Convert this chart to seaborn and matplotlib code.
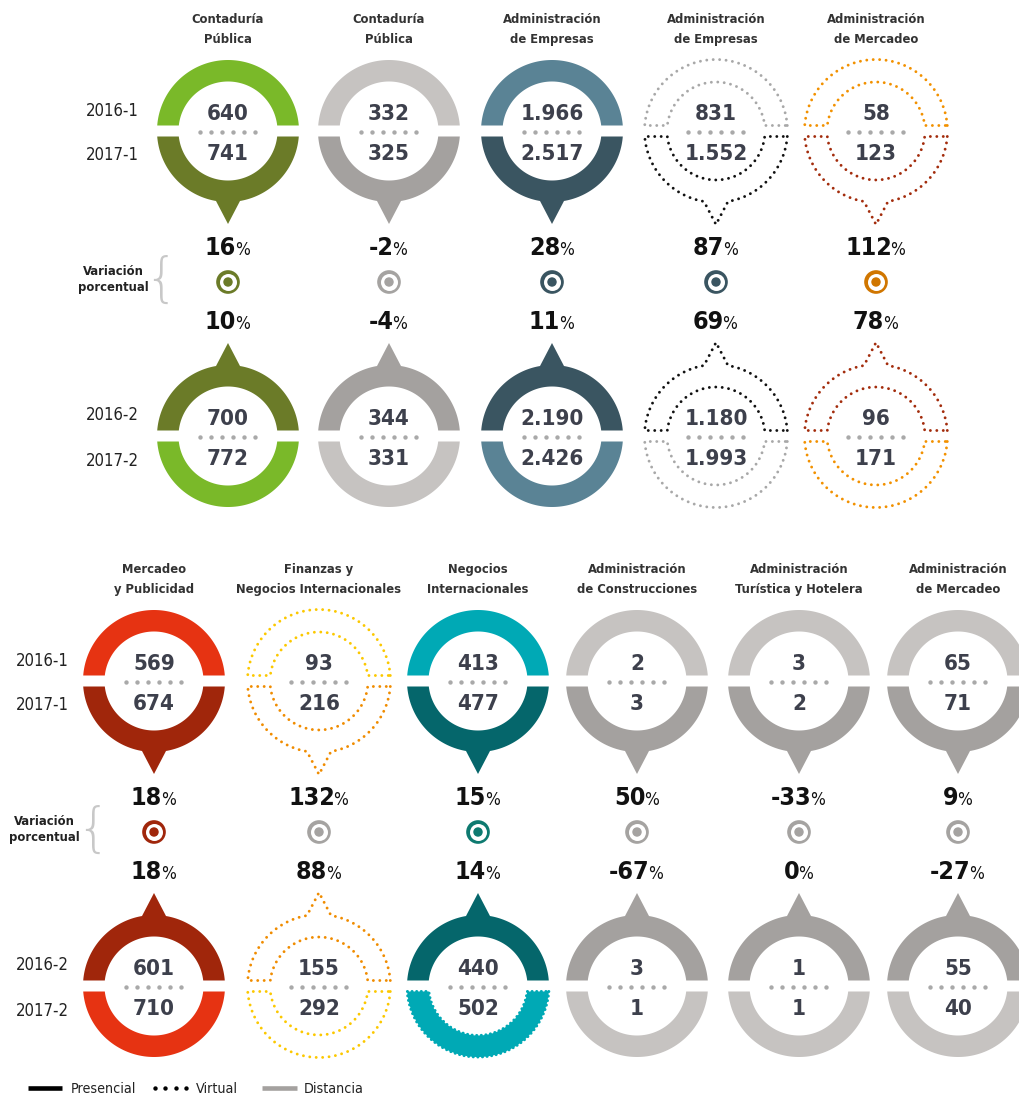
import numpy as np
import pandas as pd
import matplotlib
matplotlib.use("Agg")
import matplotlib.pyplot as plt
from matplotlib import font_manager as fm
from matplotlib.patches import Polygon
import seaborn as sns

# ---------------- data ----------------
top_titles = [["Contaduría", "Pública"], ["Contaduría", "Pública"],
              ["Administración", "de Empresas"], ["Administración", "de Empresas"],
              ["Administración", "de Mercadeo"]]
top_modes = ["presencial", "distancia", "presencial", "virtual", "virtual"]
top_keys = ["cont_p", "dist", "adm_p", "adm_v", "mer_v"]
top_2016_1 = [640, 332, 1966, 831, 58]
top_2017_1 = [741, 325, 2517, 1552, 123]
top_var_1 = [16, -2, 28, 87, 112]
top_var_2 = [10, -4, 11, 69, 78]
top_2016_2 = [700, 344, 2190, 1180, 96]
top_2017_2 = [772, 331, 2426, 1993, 171]

bot_titles = [["Mercadeo", "y Publicidad"], ["Finanzas y", "Negocios Internacionales"],
              ["Negocios", "Internacionales"], ["Administración", "de Construcciones"],
              ["Administración", "Turística y Hotelera"], ["Administración", "de Mercadeo"]]
bot_modes = ["presencial", "virtual", "presencial", "distancia", "distancia", "distancia"]
bot_keys = ["mp_p", "fin_v", "neg_p", "dist", "dist", "dist"]
bot_2016_1 = [569, 93, 413, 2, 3, 65]
bot_2017_1 = [674, 216, 477, 3, 2, 71]
bot_var_1 = [18, 132, 15, 50, -33, 9]
bot_var_2 = [18, 88, 14, -67, 0, -27]
bot_2016_2 = [601, 155, 440, 3, 1, 55]
bot_2017_2 = [710, 292, 502, 1, 1, 40]

# colours (light half, dark half) and centre marker colours
PAL = {
    "cont_p": ("#7ab929", "#6b7b28"),
    "dist": ("#c6c3c1", "#a4a19f"),
    "adm_p": ("#5a8395", "#3a5561"),
    "adm_v": ("#a8a8a8", "#111111"),
    "mer_v": ("#f29100", "#a32c0c"),
    "mp_p": ("#e63312", "#a0260b"),
    "fin_v": ("#fcc800", "#f08c00"),
    "neg_p": ("#00a9b5", "#05666b"),
}
top_marker = ["#6b7b28", "#a5a3a1", "#3a5561", "#3a5561", "#d07600"]
bot_marker = ["#a0260b", "#a5a3a1", "#0e7a70", "#a5a3a1", "#a5a3a1", "#a5a3a1"]
bot_scallop = [False, False, True, False, False, False]

# ---------------- layout ----------------
top_x = [228, 389, 552, 716, 876]
bot_x = [154, 319, 478, 637, 799, 958]
top_cy = 131
bot_cy = 681
RING_GAP = 305

sns.set_theme(style="white")

# pick a narrow font if one is installed
fams = {}
for f in fm.fontManager.ttflist:
    fams.setdefault(f.name, set()).add(f.stretch)
if "Liberation Sans Narrow" in fams:
    FAM, STR = "Liberation Sans Narrow", "normal"
elif "condensed" in fams.get("DejaVu Sans", set()):
    FAM, STR = "DejaVu Sans", "condensed"
else:
    FAM, STR = "Liberation Sans", "normal"
    for n, s in fams.items():
        if "Narrow" in n or "Condensed" in n:
            FAM, STR = n, "normal"
            break
plt.rcParams["font.family"] = [FAM, "DejaVu Sans"]
plt.rcParams["font.stretch"] = STR

fig = plt.figure(figsize=(10.19, 11.03), dpi=100)
ax = fig.add_axes([0, 0, 1, 1])
ax.set_xlim(0, 1019)
ax.set_ylim(1103, 0)
ax.axis("off")
renderer = fig.canvas.get_renderer()

R_OUT, R_IN, GAP, TIP, TIP_W = 71, 49.5, 5.5, 22, 12
NUM_COL = "#3d404c"


def fmt(v):
    return f"{v:,}".replace(",", ".")


def half_ring(cx, cy, side, pointer, R=R_OUT, r=R_IN):
    # side=-1 -> upper half, side=+1 -> lower half (pixel y grows down)
    a0 = np.arcsin(GAP / R)
    b0 = np.arcsin(GAP / r)
    if pointer:
        ap = np.arccos(TIP_W / R)
        t1 = np.linspace(a0, ap, 50)
        t2 = np.linspace(np.pi - ap, np.pi - a0, 50)
        ox = np.concatenate([cx + R * np.cos(t1), [cx], cx + R * np.cos(t2)])
        oy = np.concatenate([cy + side * R * np.sin(t1), [cy + side * (R + TIP)],
                             cy + side * R * np.sin(t2)])
    else:
        t = np.linspace(a0, np.pi - a0, 100)
        ox = cx + R * np.cos(t)
        oy = cy + side * R * np.sin(t)
    ti = np.linspace(np.pi - b0, b0, 80)
    ix = cx + r * np.cos(ti)
    iy = cy + side * r * np.sin(ti)
    return np.column_stack([np.concatenate([ox, ix]), np.concatenate([oy, iy])])


def draw_half(cx, cy, side, pointer, color, mode, scallop=False):
    if mode == "virtual":
        pts = half_ring(cx, cy, side, pointer, R=71.5, r=49)
        pts = np.vstack([pts, pts[:1]])
        ax.plot(pts[:, 0], pts[:, 1], color=color, lw=2.1,
                linestyle=(0, (0.01, 2.2)), dash_capstyle="round")
    else:
        pts = half_ring(cx, cy, side, pointer)
        ax.add_patch(Polygon(pts, closed=True, fc=color, ec="none"))
        if scallop:
            pts = np.vstack([pts, pts[:1]])
            ax.plot(pts[:, 0], pts[:, 1], color=color, lw=2.2,
                    linestyle=(0, (0.01, 1.5)), dash_capstyle="round")


def draw_ring(cx, cy, key, mode, v_top, v_bot, dark_top, scallop=False):
    light, dark = PAL[key]
    if dark_top:
        draw_half(cx, cy, -1, True, dark, mode)
        draw_half(cx, cy, 1, False, light, mode, scallop)
    else:
        draw_half(cx, cy, -1, False, light, mode)
        draw_half(cx, cy, 1, True, dark, mode)
    ax.text(cx, cy - 11, fmt(v_top), fontsize=16, fontweight="bold", color=NUM_COL,
            ha="center", va="baseline")
    ax.text(cx, cy + 29, fmt(v_bot), fontsize=16, fontweight="bold", color=NUM_COL,
            ha="center", va="baseline")
    ax.scatter(cx + np.arange(-27.5, 28, 11), np.full(6, cy + 0.5), s=10,
               color="#a9a9a9", lw=0, zorder=3)


def pct(cx, y, v):
    t1 = ax.text(cx, y, f"{v}", fontsize=18, fontweight="bold", color="#111111",
                 ha="left", va="baseline")
    t2 = ax.text(cx, y, "%", fontsize=12.5, color="#111111", ha="left", va="baseline")
    w1 = t1.get_window_extent(renderer).width
    w2 = t2.get_window_extent(renderer).width
    x0 = cx - (w1 + w2) / 2
    t1.set_x(x0)
    t2.set_x(x0 + w1 - 1.5)


def section(xs, cy, titles, modes, keys, a1, b1, p1, p2, a2, b2, markers, lab_x,
            var_x, brace_x, scallops):
    for i, cx in enumerate(xs):
        ax.text(cx, cy - 108, titles[i][0], fontsize=9.3, fontweight="bold",
                color="#333333", ha="center", va="baseline")
        ax.text(cx, cy - 88, titles[i][1], fontsize=9.3, fontweight="bold",
                color="#333333", ha="center", va="baseline")
        draw_ring(cx, cy, keys[i], modes[i], a1[i], b1[i], dark_top=False)
        draw_ring(cx, cy + RING_GAP, keys[i], modes[i], a2[i], b2[i], dark_top=True,
                  scallop=scallops[i])
        pct(cx, cy + 124, p1[i])
        pct(cx, cy + 198, p2[i])
    labels = ["2016-1", "2017-1", "2016-2", "2017-2"]
    ys = [cy - 22, cy + 23, cy + RING_GAP - 22, cy + RING_GAP + 23]
    for lab, y in zip(labels, ys):
        ax.text(lab_x, y + 6.5, lab, fontsize=12, color="#222222", ha="center",
                va="baseline")
    ax.text(var_x, cy + 144, "Variación", fontsize=9.3, fontweight="bold",
            color="#222222", ha="center", va="baseline")
    ax.text(var_x, cy + 160, "porcentual", fontsize=9.3, fontweight="bold",
            color="#222222", ha="center", va="baseline")
    ax.text(brace_x, cy + 150, "{", fontsize=38, color="#c8c8c8", ha="center",
            va="center", family="DejaVu Sans", fontweight="light", stretch="normal")
    # centre markers via seaborn
    df = pd.DataFrame({"x": xs, "y": [cy + 151] * len(xs),
                       "k": [f"m{i}" for i in range(len(xs))]})
    pal = {f"m{i}": c for i, c in enumerate(markers)}
    sns.scatterplot(data=df, x="x", y="y", hue="k", palette=pal, s=290, lw=0,
                    legend=False, ax=ax, zorder=4)
    sns.scatterplot(data=df, x="x", y="y", color="white", s=150, lw=0,
                    legend=False, ax=ax, zorder=5)
    sns.scatterplot(data=df, x="x", y="y", hue="k", palette=pal, s=46, lw=0,
                    legend=False, ax=ax, zorder=6)


section(top_x, top_cy, top_titles, top_modes, top_keys, top_2016_1, top_2017_1,
        top_var_1, top_var_2, top_2016_2, top_2017_2, top_marker, 112, 113, 161,
        [False] * 5)
section(bot_x, bot_cy, bot_titles, bot_modes, bot_keys, bot_2016_1, bot_2017_1,
        bot_var_1, bot_var_2, bot_2016_2, bot_2017_2, bot_marker, 42, 44, 93,
        bot_scallop)

# legend
ly = 1088
ax.plot([28, 62], [ly, ly], color="#000000", lw=3.3, solid_capstyle="butt")
ax.text(71, ly + 5, "Presencial", fontsize=10.3, color="#222222", va="baseline")
ax.scatter([155, 165.5, 176, 186.5], [ly] * 4, s=10, color="#000000", lw=0)
ax.text(196, ly + 5, "Virtual", fontsize=10.3, color="#222222", va="baseline")
ax.plot([262, 297], [ly, ly], color="#a4a19f", lw=3.3, solid_capstyle="butt")
ax.text(304, ly + 5, "Distancia", fontsize=10.3, color="#222222", va="baseline")

ax.set_xlim(0, 1019)
ax.set_ylim(1103, 0)
ax.axis("off")
fig.savefig("out.png", dpi=100)
